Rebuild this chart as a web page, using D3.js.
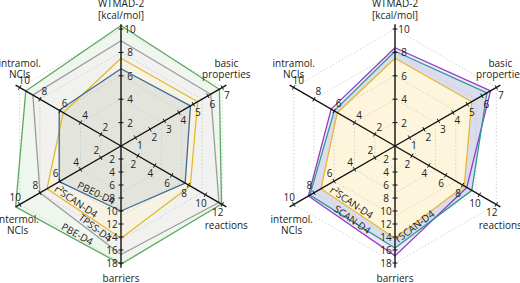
<!DOCTYPE html>
<html>
<head>
<meta charset="utf-8">
<script src="https://cdn.jsdelivr.net/npm/d3@7/dist/d3.min.js"></script>
<style>
  body { margin: 0; background: #fff; }
  svg { display: block; font-family: "Open Sans", "Noto Sans", sans-serif; }
</style>
</head>
<body>
<div id="chart"></div>
<script>
// axes go clockwise from the top
const axisNames = [["WTMAD-2", "[kcal/mol]"], ["basic", "properties"], ["reactions"], ["barriers"], ["intermol.", "NCIs"], ["intramol.", "NCIs"]];
const axisMax = [10, 7, 12, 18, 10, 10];
const axisTicks = [
    [2, 4, 6, 8, 10],
    [1, 2, 3, 4, 5, 6, 7],
    [2, 4, 6, 8, 10, 12],
    [2, 4, 6, 8, 10, 12, 14, 16, 18],
    [2, 4, 6, 8, 10],
    [2, 4, 6, 8, 10]
];

// values per axis: WTMAD-2, basic, reactions, barriers, intermol, intramol
const pbeD4    = [10.3, 6.8, 11.9, 18.2, 10.4, 9.4];
const tpssD4   = [9.0, 6.2, 11.6, 16.7, 8.0, 8.7];
const r2scanD4 = [7.5, 5.3, 8.2, 14.2, 7.3, 5.7];
const pbe0D4   = [6.6, 4.8, 7.6, 10.0, 6.1, 6.1];
const scanD4   = [8.4, 6.6, 8.5, 16.9, 8.55, 6.3];
const rscanD4  = [8.1, 6.35, 9.1, 15.7, 8.4, 6.0];

const panels = [
    { cx: 121, series: [
        { name: "PBE-D4", values: pbeD4, color: "#5aaa62", fill: "#eef6ee", edge: [4, 3], t: 0.56 },
        { name: "TPSS-D4", values: tpssD4, color: "#9c9c9c", fill: "#f1f1f0", edge: [4, 3], t: 0.64 },
        { name: "r²SCAN-D4", values: r2scanD4, color: "#e5b830", fill: "#f6f3e4", edge: [4, 3], t: 0.35 },
        { name: "PBE0-D4", values: pbe0D4, color: "#3e6a97", fill: "#e3e5dc", edge: [4, 3], t: 0.56 }
    ]},
    { cx: 395, series: [
        { name: "SCAN-D4", values: scanD4, color: "#8e3cc8", fill: "#f3e7f8", edge: [4, 3], t: 0.47 },
        { name: "rSCAN-D4", values: rscanD4, color: "#2a9d90", fill: "#dcdcef", edge: [3, 2], t: 0.3 },
        { name: "r²SCAN-D4", values: r2scanD4, color: "#e5b830", fill: "#fdf6dd", edge: [4, 3], t: 0.37 }
    ]}
];

const width = 520, height = 283;
const cy = 146, R = 117;

const svg = d3.select("#chart").append("svg")
    .attr("width", width)
    .attr("height", height);

const dirs = axisMax.map((m, i) => {
    const a = i * Math.PI / 3;
    return [Math.sin(a), -Math.cos(a)];
});
const scales = axisMax.map(m => d3.scaleLinear().domain([0, m]).range([0, R]));

panels.forEach(panel => {
    const g = svg.append("g").attr("transform", `translate(${panel.cx},${cy})`);
    const pt = (i, v) => [dirs[i][0] * scales[i](v), dirs[i][1] * scales[i](v)];
    const line = d3.line().curve(d3.curveLinearClosed);

    // fills, biggest first
    panel.series.forEach(s => {
        g.append("path")
            .attr("d", line(s.values.map((v, i) => pt(i, v))))
            .attr("fill", s.fill)
            .attr("stroke", "none");
    });

    // dotted grid hexagons
    [0.2, 0.4, 0.6, 0.8, 1.0].forEach(f => {
        g.append("path")
            .attr("d", line(dirs.map(d => [d[0] * R * f, d[1] * R * f])))
            .attr("fill", "none")
            .attr("stroke", "#c8c8c8")
            .attr("stroke-width", 0.8)
            .attr("stroke-dasharray", "1.5,2");
    });

    // series outlines
    panel.series.forEach(s => {
        g.append("path")
            .attr("d", line(s.values.map((v, i) => pt(i, v))))
            .attr("fill", "none")
            .attr("stroke", s.color)
            .attr("stroke-width", 1.3)
            .attr("stroke-linejoin", "round");
    });

    // axes with ticks and tick labels
    dirs.forEach((d, i) => {
        g.append("line")
            .attr("x1", 0).attr("y1", 0)
            .attr("x2", d[0] * R * 1.04).attr("y2", d[1] * R * 1.04)
            .attr("stroke", "#111")
            .attr("stroke-width", 1.4);
        const perp = [-d[1], d[0]];
        axisTicks[i].forEach(v => {
            const r = scales[i](v);
            const x = d[0] * r, y = d[1] * r;
            g.append("line")
                .attr("x1", x - perp[0] * 2.5).attr("y1", y - perp[1] * 2.5)
                .attr("x2", x + perp[0] * 2.5).attr("y2", y + perp[1] * 2.5)
                .attr("stroke", "#111")
                .attr("stroke-width", 1);
            g.append("text")
                .attr("x", x + perp[0] * 9)
                .attr("y", y + perp[1] * 9)
                .attr("text-anchor", "middle")
                .attr("dominant-baseline", "central")
                .attr("font-size", "10px")
                .attr("fill", "#222")
                .text(v);
        });

        // axis name
        const ex = d[0] * R, ey = d[1] * R;
        const up = ey < 0;
        const offY = i === 0 ? -20 : i === 3 ? 15 : (up ? -19 : 20);
        const offX = i === 1 || i === 2 ? 4 : i === 4 ? -2 : 0;
        const lines = axisNames[i];
        const lh = 11.5;
        lines.forEach((t, k) => {
            g.append("text")
                .attr("x", ex + offX)
                .attr("y", ey + offY + (k - (lines.length - 1) / 2) * lh)
                .attr("text-anchor", "middle")
                .attr("dominant-baseline", "central")
                .attr("font-size", "10px")
                .attr("fill", "#222")
                .text(t);
        });
    });

    // series names along an edge
    panel.series.forEach(s => {
        const [a, b] = s.edge;
        const p1 = pt(a, s.values[a]), p2 = pt(b, s.values[b]);
        const x = p1[0] + (p2[0] - p1[0]) * s.t;
        const y = p1[1] + (p2[1] - p1[1]) * s.t;
        const dx = p2[0] - p1[0], dy = p2[1] - p1[1];
        const len = Math.hypot(dx, dy);
        let nx = -dy / len, ny = dx / len;
        if (nx * x + ny * y > 0) { nx = -nx; ny = -ny; }
        const ang = Math.atan2(dy, dx) * 180 / Math.PI;
        const tx = x + nx * 6, ty = y + ny * 6;
        g.append("text")
            .attr("transform", `translate(${tx},${ty}) rotate(${ang})`)
            .attr("text-anchor", "middle")
            .attr("dominant-baseline", "central")
            .attr("font-size", "10px")
            .attr("fill", "#222")
            .text(s.name);
    });
});
</script>
</body>
</html>
